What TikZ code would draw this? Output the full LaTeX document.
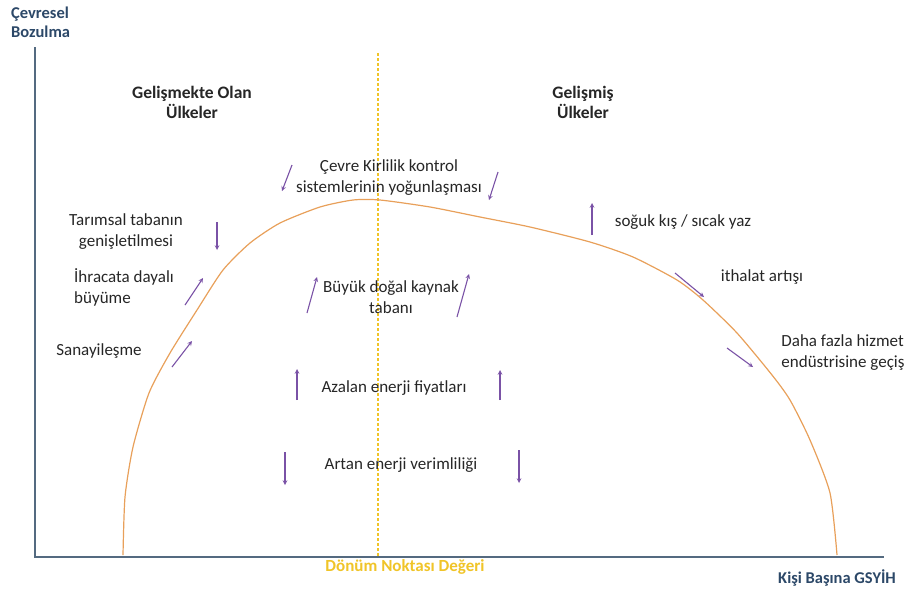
\documentclass[tikz,border=0pt]{standalone}
\usepackage{fontspec}
\setmainfont{Carlito}
\usetikzlibrary{positioning}
\definecolor{axisblue}{RGB}{84,106,128}
\definecolor{labelblue}{RGB}{44,72,104}
\definecolor{curveorange}{RGB}{232,160,90}
\definecolor{turngold}{RGB}{240,196,40}
\definecolor{trendpurple}{RGB}{122,82,166}

\begin{document}
\begin{tikzpicture}[x=1pt, y=-1pt,
    lbl/.style={align=center, inner sep=0pt, text=black!85, font=\fontsize{17}{21}\selectfont},
    head/.style={lbl, font=\fontsize{17.5}{20}\selectfont\bfseries},
    axislbl/.style={inner sep=0pt, align=left, text=labelblue, font=\fontsize{16.5}{19}\selectfont\bfseries},
    trend/.style={->, >=stealth, draw=trendpurple, line width=1.1pt}]
  \useasboundingbox (0,0) rectangle (909,595);

  \coordinate (ytop) at (35,47);
  \coordinate (origin) at (35,557);
  \coordinate (xend) at (884,557);
  \coordinate (turntop) at (378,53);
  \coordinate (turnbot) at (378,557);

  \draw[axisblue, line width=1.6pt] (ytop) -- (origin) -- (xend);
  \draw[turngold, dash pattern=on 3pt off 2pt, line width=1.4pt] (turntop) -- (turnbot);
  \draw[curveorange, line width=1.2pt] plot[smooth, tension=0.4] coordinates {
    (123,555) (125,497) (133,447) (149,393) (170,353) (197,310) (223,270)
    (250,243) (280,223) (320,207) (353,200) (380,200) (430,207) (480,217)
    (530,227) (590,242) (633,257) (677,280) (703,300) (737,333) (772,375)
    (790,400) (810,440) (830,493) (837,555)};

  \node (ylabel) [axislbl, anchor=west] at (11,22) {Çevresel\\Bozulma};
  \node (xlabel) [axislbl, anchor=east] at (896,578) {Kişi Başına GSYİH};
  \node (turnlabel) [axislbl, text=turngold, font=\fontsize{17}{19}\selectfont\bfseries] at (405,567) {Dönüm Noktası Değeri};

  \node (developing) [head] at (192,102) {Gelişmekte Olan\\Ülkeler};
  \node (developed) [head] at (583,102) {Gelişmiş\\Ülkeler};

  \node (control) [lbl] at (389,178) {Çevre Kirlilik kontrol\\sistemlerinin yoğunlaşması};
  \node (agri) [lbl] at (126,232) {Tarımsal tabanın\\genişletilmesi};
  \node (export) [lbl, align=left, anchor=west] at (74,287) {İhracata dayalı\\büyüme};
  \node (industry) [lbl] at (99,351) {Sanayileşme};
  \node (resource) [lbl] at (391,297) {Büyük doğal kaynak\\tabanı};
  \node (prices) [lbl] at (394,388) {Azalan enerji fiyatları};
  \node (efficiency) [lbl] at (401,465) {Artan enerji verimliliği};
  \node (climate) [lbl] at (683,222) {soğuk kış / sıcak yaz};
  \node (imports) [lbl] at (762,277) {ithalat artışı};
  \node (service) [lbl, align=left] at (843,353) {Daha fazla hizmet\\endüstrisine geçiş};

  \draw[trend] (292,165) -- (282,191);
  \draw[trend] (498,172) -- (489,200);
  \draw[trend] (217,222) -- (217,250);
  \draw[trend] (185,305) -- (203,278);
  \draw[trend] (172,367) -- (192,341);
  \draw[trend] (307,313) -- (317,277);
  \draw[trend] (457,317) -- (469,274);
  \draw[trend] (297,400) -- (297,369);
  \draw[trend] (500,400) -- (500,370);
  \draw[trend] (285,452) -- (285,485);
  \draw[trend] (519,450) -- (519,483);
  \draw[trend] (592,235) -- (592,203);
  \draw[trend] (675,273) -- (704,297);
  \draw[trend] (727,348) -- (753,367);
\end{tikzpicture}
\end{document}
